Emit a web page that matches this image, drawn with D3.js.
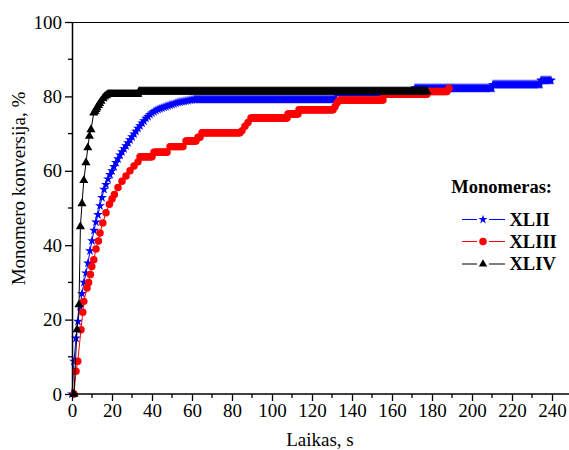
<!DOCTYPE html>
<html><head><meta charset="utf-8">
<script src="https://cdn.jsdelivr.net/npm/d3@7"></script>
<style>body{margin:0;background:#fff} text{font-family:"Liberation Serif","Times New Roman",serif}</style>
</head><body><svg id="c" width="569" height="450"></svg>
<script>
// ---- data ----
const seriesNames = ["XLII", "XLIII", "XLIV"];
const seriesColors = ["#0000ff", "#ff0000", "#000000"];
const xTickValues = [0,20,40,60,80,100,120,140,160,180,200,220,240];
const yTickValues = [0,20,40,60,80,100];

// XLII: explicit points [t, %] on the rising part
const xliiPts = [[0,0],[1,8.8],[2,15],[3,19.5],[4,23.5],[5,27],[6,30],[7,32.5],[8,35.2],[9,38.5],
  [10,41.2],[11,44],[12,46.2],[13,48.2],[14,50.6],[15,52.8],[16,55],[17,56.3],[18,57.8],[19,59],
  [20,60],[21,61.1],[22,62.2],[23,63.2],[24,64.2],[25,65.1],[26,65.9],[27,66.7],[28,67.5],[29,68.3],
  [30,69.1],[31,69.9],[32,70.6],[33,71.4],[34,72.1],[35,72.8],[36,73.4],[37,74.1],[38,74.6],[39,75.1],
  [40,75.5],[41,75.9],[42,76.2],[43,76.5],[44,76.7],[45,76.9],[46,77.1],[47,77.3],[48,77.5],[49,77.7],
  [50,77.8],[51,78],[52,78.2],[53,78.4],[54,78.5],[55,78.6],[56,78.7],[57,78.8],[58,78.9],[59,79],[60,79.1]];
// XLII: plateaus [tStart, tEnd, %] (densely sampled every 0.5 s)
const xliiRuns = [[61,132,79.2],[132.5,171,81.0],[171.5,210,82.2],[210.5,234,83.2],[234.5,239.5,84.3]];

// XLIII
const xliiiPts = [[1,0],[2,6.1],[2.9,8.8],[4.5,17.3],[5.4,22],[5.9,24.9],[7.5,28.5],[8.3,30],[9.2,32.1],
  [9.9,34.3],[10.9,36.1],[12,39],[13.2,41.1],[14,43.3],[15.4,46],[17,48.7],[18.7,51],[20,52.4],[21.2,53.6],
  [23,55.5],[25,57.2],[27,58.6],[29,60],[31,61.3],[33,62.4]];
const xliiiRuns = [[34,40,63.8],[41,47.5,65],[49,55.5,66.5],[57,62,68],[63,64,69],[65,84,70.2],
  [85,85,70.8],[86.5,86.5,72],[88,88,73],[89.5,107.5,74.2],[108,113,75.3],[113.5,130.5,76.4],
  [131.5,131.5,77.2],[132.5,132.5,78.2],[133.5,155.5,79.0],[156,177.5,80.6],[178,187.5,81.3],[188.5,188.5,82.2]];

// XLIV
const xlivPts = [[1,0],[2.5,17.3],[3.5,24],[4.2,45],[5,51.2],[5.9,57.4],[7,62.2],[7.9,66.2],[8.7,69.3],
  [9.5,71.1],[10.9,75.6],[11.5,76],[12,76.5],[12.5,77],[13.2,77.6],[13.8,78.1],[14.5,78.7],[15.5,79.4],
  [16.2,79.9],[17,80.2],[17.5,80.4]];
const xlivRuns = [[18,33,80.6],[33.5,177.5,81.3]];

const samplingStep = 0.5;

// ---- build series ----
function build(pts, runs) {
  const out = pts.map(d => ({t: d[0], v: d[1]}));
  runs.forEach(([a, b, v]) => {
    for (let t = a; t <= b + 1e-9; t += samplingStep) out.push({t, v});
  });
  return out.sort((p, q) => p.t - q.t);
}
const series = [build(xliiPts, xliiRuns), build(xliiiPts, xliiiRuns), build(xlivPts, xlivRuns)];

// ---- layout ----
const svg = d3.select("#c");
const x = d3.scaleLinear().domain([0, 250]).range([72, 572]);
const y = d3.scaleLinear().domain([0, 100]).range([394, 22]);
const font = '"Liberation Serif","Times New Roman",serif';

const symbols = [d3.symbolStar, d3.symbolCircle, d3.symbolTriangle];
const sizes = [30, 44, 36];
const legendSizes = [26, 44, 30];

// top frame
svg.append("line").attr("x1", 72).attr("x2", 569).attr("y1", 22.5).attr("y2", 22.5)
  .attr("stroke", "#000").attr("stroke-width", 1);

// series
series.forEach((data, i) => {
  const g = svg.append("g");
  g.append("path").datum(data)
    .attr("fill", "none").attr("stroke", seriesColors[i]).attr("stroke-width", 1)
    .attr("d", d3.line().x(d => x(d.t)).y(d => y(d.v)));
  g.selectAll("path.m").data(data).join("path").attr("class", "m")
    .attr("transform", d => `translate(${x(d.t)},${y(d.v)})`)
    .attr("d", d3.symbol().type(symbols[i]).size(sizes[i]))
    .attr("fill", seriesColors[i]);
});

// axes
const xMinor = d3.range(10, 250, 20);
const yMinor = d3.range(10, 100, 20);
const xAxis = svg.append("g").attr("transform", "translate(0,394)")
  .call(d3.axisBottom(x).tickValues(xTickValues).tickSize(7).tickPadding(3).tickSizeOuter(0).tickFormat(d3.format("d")));
xAxis.select(".domain").attr("d", "M72,0H569").attr("stroke-width", 1.5);
xAxis.selectAll(".tick line").attr("stroke-width", 1.3);
xAxis.selectAll("text").attr("font-size", 19).attr("font-family", font).attr("fill", "#000");
xAxis.append("g").selectAll("line").data(xMinor).join("line")
  .attr("x1", d => x(d)).attr("x2", d => x(d)).attr("y1", 0).attr("y2", 4)
  .attr("stroke", "#000").attr("stroke-width", 1.3);

const yAxis = svg.append("g").attr("transform", "translate(72,0)")
  .call(d3.axisLeft(y).tickValues(yTickValues).tickSize(7).tickPadding(3).tickSizeOuter(0).tickFormat(d3.format("d")));
yAxis.select(".domain").attr("stroke-width", 1.5);
yAxis.selectAll(".tick line").attr("stroke-width", 1.3);
yAxis.selectAll("text").attr("font-size", 19).attr("font-family", font).attr("fill", "#000");
yAxis.append("g").selectAll("line").data(yMinor).join("line")
  .attr("y1", d => y(d)).attr("y2", d => y(d)).attr("x1", 0).attr("x2", -4)
  .attr("stroke", "#000").attr("stroke-width", 1.3);

// axis titles
svg.append("text").attr("x", 320).attr("y", 446).attr("text-anchor", "middle")
  .attr("font-size", 19).attr("font-family", font).text("Laikas, s");
svg.append("text").attr("transform", "translate(25,188.5) rotate(-90)").attr("text-anchor", "middle")
  .attr("font-size", 19).attr("font-family", font).text("Monomero konversija, %");

// legend
const lg = svg.append("g");
lg.append("text").attr("x", 552).attr("y", 192.7).attr("text-anchor", "end")
  .attr("font-size", 18.5).attr("font-weight", "bold").attr("font-family", font).text("Monomeras:");
const rowY = [219.5, 241.5, 264];
seriesNames.forEach((name, i) => {
  const cy = rowY[i];
  [[462, 477], [489, 505]].forEach(([a, b]) => {
    lg.append("line").attr("x1", a).attr("x2", b).attr("y1", cy).attr("y2", cy)
      .attr("stroke", seriesColors[i]).attr("stroke-width", 1);
  });
  lg.append("path").attr("transform", `translate(483,${cy})`)
    .attr("d", d3.symbol().type(symbols[i]).size(legendSizes[i]))
    .attr("fill", seriesColors[i]);
  lg.append("text").attr("x", 509.5).attr("y", cy + 6).attr("font-size", 18.5)
    .attr("font-weight", "bold").attr("font-family", font).text(name);
});
</script></body></html>
